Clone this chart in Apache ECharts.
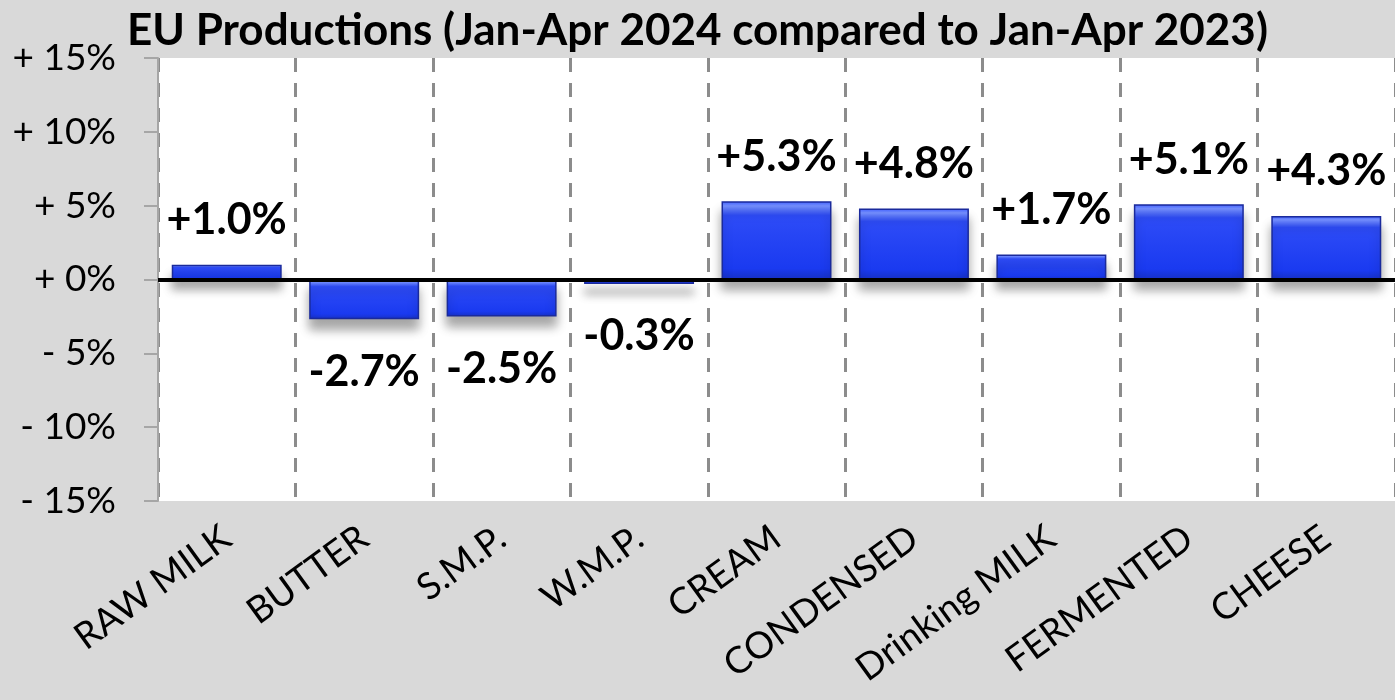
<!DOCTYPE html>
<html>
<head>
<meta charset="utf-8">
<script src="https://cdn.jsdelivr.net/npm/echarts@6/dist/echarts.min.js"></script>
<style>
  html, body { margin: 0; padding: 0; background: #d9d9d9; }
  #chart { width: 1395px; height: 700px; }
</style>
</head>
<body>
<div id="chart"></div>
<script>
const categories = ['RAW MILK', 'BUTTER', 'S.M.P.', 'W.M.P.', 'CREAM', 'CONDENSED', 'Drinking MILK', 'FERMENTED', 'CHEESE']
const changes = [1.0, -2.7, -2.5, -0.3, 5.3, 4.8, 1.7, 5.1, 4.3]
const yTicks = { min: -15, max: 15, step: 5 }

const FONT = 'Lato, "Open Sans", sans-serif'

// bevelled blue look of the original bars
const barFill = new echarts.graphic.LinearGradient(0, 0, 0, 1, [
  { offset: 0, color: '#3f5dff' },
  { offset: 0.06, color: '#7590ff' },
  { offset: 0.18, color: '#2e4cf7' },
  { offset: 0.86, color: '#1a3af0' },
  { offset: 1, color: '#1630c4' }
])

function fmtTick(v) {
  if (v < 0) return '- ' + Math.abs(v) + '%'
  return '+ ' + v + '%'
}

function fmtLabel(v) {
  return (v >= 0 ? '+' : '') + v.toFixed(1) + '%'
}

const chart = echarts.init(document.getElementById('chart'))

chart.setOption({
  backgroundColor: '#d9d9d9',
  animation: false,
  title: {
    text: 'EU Productions (Jan-Apr 2024 compared to Jan-Apr 2023)',
    left: 'center',
    top: 4,
    textStyle: { fontFamily: FONT, fontSize: 44, fontWeight: 'bold', color: '#000' }
  },
  grid: {
    left: 158,
    right: 0,
    top: 58,
    bottom: 199,
    show: true,
    backgroundColor: '#ffffff',
    borderWidth: 0
  },
  xAxis: {
    type: 'category',
    data: categories,
    axisLine: { show: false },
    axisTick: { show: false },
    axisLabel: {
      rotate: 36,
      margin: 33,
      color: '#000',
      fontFamily: FONT,
      fontSize: 37
    },
    splitLine: {
      show: true,
      lineStyle: { color: '#8c8c8c', width: 3, type: [14, 11] }
    }
  },
  yAxis: {
    type: 'value',
    min: yTicks.min,
    max: yTicks.max,
    interval: yTicks.step,
    axisLine: { show: true, lineStyle: { color: '#a6a6a6', width: 2 } },
    axisTick: { show: true, length: 14, lineStyle: { color: '#a6a6a6', width: 2 } },
    splitLine: { show: false },
    axisLabel: {
      margin: 42,
      color: '#000',
      fontFamily: FONT,
      fontSize: 37,
      formatter: fmtTick
    }
  },
  series: [
    {
      type: 'bar',
      barCategoryGap: '20%',
      data: changes.map((v) => ({
        value: v,
        label: {
          position: v >= 0 ? 'top' : 'bottom',
          distance: v >= 0 ? 23 : 31
        }
      })),
      itemStyle: {
        color: barFill,
        borderColor: '#1a2a9c',
        borderWidth: 1.5,
        shadowColor: 'rgba(0,0,0,0.35)',
        shadowBlur: 10,
        shadowOffsetY: 10
      },
      label: {
        show: true,
        formatter: (p) => fmtLabel(p.value),
        color: '#000',
        fontFamily: FONT,
        fontSize: 43,
        fontWeight: 'bold'
      },
      markLine: {
        silent: true,
        symbol: 'none',
        label: { show: false },
        lineStyle: { color: '#000', width: 4, type: 'solid' },
        data: [{ yAxis: 0 }]
      }
    }
  ]
})
</script>
</body>
</html>
